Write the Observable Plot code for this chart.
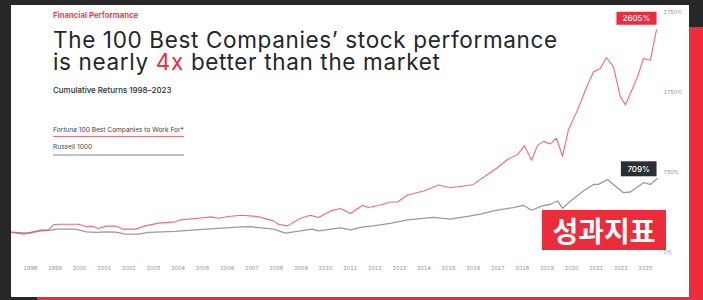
<!DOCTYPE html>
<html>
<head>
<meta charset="utf-8">
<script src="https://cdn.jsdelivr.net/npm/d3@7"></script>
<script src="https://cdn.jsdelivr.net/npm/@observablehq/plot@0.6"></script>
<style>
  html, body { margin: 0; padding: 0; }
  body { width: 703px; height: 300px; position: relative; overflow: hidden; background: #272727; font-family: Inter, "Noto Sans", sans-serif; }
  .abs { position: absolute; }
  #panel { left: 11px; top: 5px; width: 678px; height: 292px; background: #ffffff; }
  #redRight { left: 689px; top: 27px; width: 14px; height: 273px; background: #ec2b3b; }
  #redBottom { left: 37px; top: 297px; width: 666px; height: 3px; background: #ec2b3b; }
  #kicker { left: 53px; top: 10px; font-size: 7.85px; font-weight: 600; color: #ec2b3b; white-space: nowrap; }
  .tl { left: 53px; font-size: 22.5px; line-height: 21.5px; height: 21.5px; font-weight: 400; color: #23262b; white-space: nowrap; letter-spacing: 0.65px; }
  #title1 { top: 29px; }
  #title2 { top: 50.5px; }
  .hl { color: #ec2b3b; }
  #subtitle { left: 53px; top: 85px; font-size: 7.95px; font-weight: 500; color: #2b2b2b; white-space: nowrap; }
  .leg { left: 53px; width: 131px; font-size: 6.6px; color: #444; white-space: nowrap; }
  #leg1 { top: 126px; border-bottom: 1.5px solid #f0707b; padding-bottom: 2px; }
  #leg2 { top: 143px; border-bottom: 2px solid #c2c2c2; padding-bottom: 3px; }
  #chart { left: 0; top: 0; }
  #badge { left: 542px; top: 210px; width: 124px; height: 40px; background: #ec2b3b; color: #fff; font-family: "Noto Sans CJK KR", sans-serif; font-weight: 700; font-size: 28px; line-height: 40px; text-align: center; }
</style>
</head>
<body>
<div id="panel" class="abs"></div>
<div id="redRight" class="abs"></div>
<div id="redBottom" class="abs"></div>
<div id="chart" class="abs"></div>
<div id="kicker" class="abs">Financial Performance</div>
<div id="title1" class="abs tl">The 100 Best Companies’ stock performance</div>
<div id="title2" class="abs tl">is nearly <span class="hl">4x</span> better than the market</div>
<div id="subtitle" class="abs">Cumulative Returns 1998–2023</div>
<div id="leg1" class="abs leg"><i>Fortune</i> 100 Best Companies to Work For*</div>
<div id="leg2" class="abs leg">Russell 1000</div>
<div id="badge" class="abs">성과지표</div>
<script>
// ---- data (cumulative return, %) ----
const bestYears = [1997.23, 1997.72, 1998.45, 1998.73, 1998.93, 1999.14, 1999.95, 2000.28, 2000.48, 2000.76, 2001.09, 2001.46, 2001.78, 2002.27, 2002.67, 2003.20, 2003.89, 2004.10, 2004.71, 2005.36, 2005.64, 2006.05, 2006.58, 2007.23, 2007.88, 2008.08, 2008.45, 2008.98, 2009.38, 2009.71, 2010.20, 2010.60, 2011.01, 2011.50, 2011.74, 2012.23, 2012.63, 2012.92, 2013.33, 2013.98, 2014.59, 2015.07, 2015.89, 2016.01, 2016.58, 2016.98, 2017.39, 2017.80, 2018.08, 2018.37, 2018.61, 2018.85, 2019.14, 2019.38, 2019.63, 2019.87, 2020.24, 2020.56, 2020.89, 2021.17, 2021.41, 2021.70, 2021.98, 2022.19, 2022.39, 2022.68, 2022.92, 2023.20, 2023.45];
const bestValues = [1, -20, 34, 30, 96, 104, 104, 71, 80, 51, 80, 80, 42, 42, 83, 117, 133, 158, 175, 195, 179, 200, 216, 200, 145, 104, 83, 179, 216, 188, 270, 299, 237, 340, 312, 344, 381, 381, 468, 518, 593, 560, 593, 601, 725, 809, 912, 974, 1086, 903, 1086, 1139, 1107, 1181, 953, 1284, 1533, 1781, 2009, 2051, 2188, 2071, 1698, 1595, 1740, 1947, 2175, 2154, 2535];
const russellYears = [1997.23, 1997.92, 1998.45, 1998.85, 1999.06, 1999.83, 2000.28, 2000.68, 2001.05, 2001.46, 2001.86, 2002.39, 2002.80, 2003.89, 2004.14, 2005.30, 2006.58, 2006.94, 2007.88, 2008.37, 2008.98, 2009.46, 2009.71, 2010.60, 2011.01, 2011.54, 2011.94, 2012.63, 2013.33, 2014.38, 2015.07, 2015.89, 2016.29, 2016.82, 2017.23, 2017.63, 2018.04, 2018.37, 2018.81, 2019.14, 2019.42, 2019.63, 2019.96, 2020.48, 2020.89, 2021.09, 2021.46, 2021.70, 2022.11, 2022.39, 2022.92, 2023.20, 2023.47];
const russellValues = [5, -7, 21, 30, 42, 42, 9, 1, 9, 5, -20, -20, 1, 14, 21, 45, 71, 73, 42, -7, 21, 42, 21, 58, 34, 71, 83, 113, 158, 188, 166, 207, 229, 270, 291, 312, 340, 278, 332, 353, 394, 303, 394, 518, 601, 601, 663, 601, 498, 506, 622, 601, 672];
const seriesNames = ["Fortune 100 Best Companies to Work For*", "Russell 1000"];
const endLabels = ["2605%", "709%"];
const xTickYears = [1998, 1999, 2000, 2001, 2002, 2003, 2004, 2005, 2006, 2007, 2008, 2009, 2010, 2011, 2012, 2013, 2014, 2015, 2016, 2017, 2018, 2019, 2020, 2021, 2022, 2023];
const yTickValues = [2750, 1750, 750, -250];
const yTickLabels = ["2750%", "1750%", "750%", "0%"];
const xDomain = [1997.23, 2023.45];
const yDomain = [-250, 2750];

const RED = "#f04453";
const GRAY = "#8f8f8f";

const best = bestYears.map((x, i) => ({x, y: bestValues[i], s: seriesNames[0]}));
const russell = russellYears.map((x, i) => ({x, y: russellValues[i], s: seriesNames[1]}));
const bestEnd = [{x: bestYears[bestYears.length - 1], y: bestValues[bestValues.length - 1], t: endLabels[0]}];
const russellEnd = [{x: russellYears[russellYears.length - 1], y: russellValues[russellValues.length - 1], t: endLabels[1]}];

const chart = Plot.plot({
  width: 703,
  height: 300,
  marginLeft: 11,
  marginRight: 47,
  marginTop: 12,
  marginBottom: 48,
  style: {background: "transparent", fontFamily: "Inter, sans-serif", fontSize: "5.3px", color: "#8f8f8f", overflow: "visible"},
  x: {domain: xDomain, ticks: xTickYears, tickFormat: d => String(d), tickSize: 0, tickPadding: 13.5, label: null},
  y: {domain: yDomain, axis: "right", ticks: yTickValues, tickFormat: d => yTickLabels[yTickValues.indexOf(d)], tickSize: 0, tickPadding: 7, label: null},
  marks: [
    Plot.line(russell, {x: "x", y: "y", stroke: GRAY, strokeWidth: 1.3, strokeOpacity: 0.9}),
    Plot.line(best, {x: "x", y: "y", stroke: RED, strokeWidth: 1.1, strokeOpacity: 0.8}),
    Plot.text(bestEnd, {x: "x", y: "y", text: "t", fill: "#fff", textAnchor: "end", dx: -6, dy: -11, fontSize: 8, fontWeight: 500}),
    Plot.text(russellEnd, {x: "x", y: "y", text: "t", fill: "#fff", textAnchor: "end", dx: -7, dy: -9.5, fontSize: 8, fontWeight: 500})
  ]
});
document.getElementById("chart").appendChild(chart);

function addBox(g, fill, padX, padY) {
  if (!g) return;
  g.querySelectorAll("text").forEach(t => {
    const b = t.getBBox();
    const r = document.createElementNS("http://www.w3.org/2000/svg", "rect");
    r.setAttribute("x", b.x - padX);
    r.setAttribute("y", b.y - padY);
    r.setAttribute("width", b.width + 2 * padX);
    r.setAttribute("height", b.height + 2 * padY);
    r.setAttribute("fill", fill);
    const tr = t.getAttribute("transform");
    if (tr) r.setAttribute("transform", tr);
    t.parentNode.insertBefore(r, t);
  });
}
const svgEl = chart.tagName.toLowerCase() === "svg" ? chart : chart.querySelector("svg");
const textGroups = svgEl.querySelectorAll('g[aria-label="text"]');
addBox(textGroups[0], "#ec2b3b", 6, 1.5);
addBox(textGroups[1], "#2a2e35", 6.5, 2.5);
</script>
</body>
</html>
